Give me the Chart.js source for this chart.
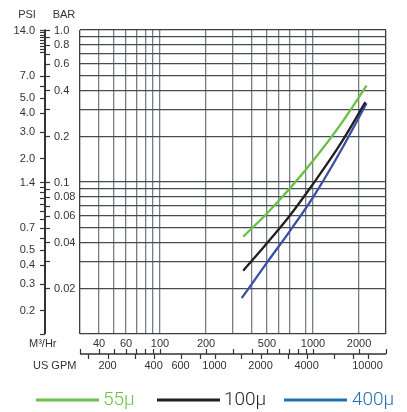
<!DOCTYPE html>
<html><head><meta charset="utf-8">
<script src="https://cdn.jsdelivr.net/npm/chart.js@4.4.0/dist/chart.umd.min.js"></script>
<style>html,body{margin:0;padding:0;background:#fff;}#wrap{width:407px;height:412px;}</style>
</head><body><div id="wrap"><canvas id="c" width="407" height="412"></canvas></div>
<script>
// ---- data (flow in m³/hr, pressure drop in bar) ----
const flow55  = [350, 500, 700, 1000, 1500, 2240];
const drop55  = [0.0437, 0.0621, 0.0898, 0.138, 0.236, 0.43];
const flow100 = [350, 500, 700, 1000, 1500, 2200];
const drop100 = [0.0261, 0.0395, 0.0595, 0.097, 0.176, 0.335];
const flow400 = [342, 500, 700, 1000, 1500, 2240];
const drop400 = [0.0172, 0.0295, 0.047, 0.0793, 0.157, 0.33];
const seriesNames = ['55μ', '100μ', '400μ'];

// ---- axes ----
const m3Grid  = [30,40,50,60,70,80,90,100,200,300,400,500,600,700,900,1000,2000,3000];
const barGrid = [0.01,0.02,0.03,0.04,0.05,0.06,0.07,0.08,0.09,0.1,0.2,0.3,0.4,0.5,0.6,0.7,0.8,0.9,1.0];
const barLabels = [1.0,0.8,0.6,0.4,0.2,0.1,0.08,0.06,0.04,0.02];
const barTicks  = [1.0,0.9,0.8,0.7,0.6,0.5,0.4,0.3,0.2,0.1,0.09,0.08,0.07,0.06,0.05,0.04,0.03,0.02];
const psiLabels = [14.0,7.0,5.0,4.0,3.0,2.0,1.4,0.7,0.5,0.4,0.3,0.2];
const psiTicks  = [14,13.5,13,12.5,12,11.5,11,10.5,10,7,6,5,4,3,2,1.4,1.3,1.2,1.1,1.0,0.9,0.8,0.7,0.6,0.5,0.4,0.3,0.2,0.14];
const m3Labels  = [40,60,100,200,500,1000,2000];
const m3Ticks   = [30,40,50,60,70,80,90,100,200,300,400,500,600,700,800,900,1000,2000,3000];
const gpmLabels = [200,400,600,1000,2000,4000,10000];
const gpmTicks  = [150,200,300,400,600,800,1000,1500,2000,3000,4000,6000,8000,10000];
const PSI_PER_BAR = 14;
const GPM_PER_M3 = 4.403;

const lineColors   = ['#6abf45', '#231f20', '#3a4fa3'];
const legendColors = ['#6cc04a', '#231f20', '#1f6fb2'];

function pts(xs, ys){ return xs.map((x,i)=>({x:x, y:ys[i]})); }

function txt(ctx, s, x, y, align, font, color){
  ctx.save();
  ctx.font = font; ctx.fillStyle = color; ctx.textBaseline = 'middle'; ctx.textAlign = align;
  ctx.fillText(s, x, y);
  ctx.restore();
}

const decor = {
  id: 'decor',
  afterDraw(chart){
    const ctx = chart.ctx, ca = chart.chartArea;
    const ys = chart.scales.y, xs = chart.scales.x;
    const axFont = '11px "Liberation Sans"';
    const axCol = '#333';
    ctx.save();
    // left axis
    const ax = 45;
    ctx.strokeStyle = '#333'; ctx.lineWidth = 2;
    ctx.beginPath(); ctx.moveTo(ax, ca.top - 0.5); ctx.lineTo(ax, ca.bottom); ctx.stroke();
    ctx.lineWidth = 1.2;
    psiTicks.forEach(v => {
      const y = Math.round(ys.getPixelForValue(v / PSI_PER_BAR)) + 0.5;
      ctx.beginPath(); ctx.moveTo(ax - 5, y); ctx.lineTo(ax, y); ctx.stroke();
    });
    barTicks.forEach(v => {
      const y = Math.round(ys.getPixelForValue(v)) + 0.5;
      ctx.beginPath(); ctx.moveTo(ax, y); ctx.lineTo(ax + 5, y); ctx.stroke();
    });
    psiLabels.forEach(v => {
      txt(ctx, v.toFixed(1), 35, ys.getPixelForValue(v / PSI_PER_BAR) + 0.5, 'right', axFont, axCol);
    });
    barLabels.forEach(v => {
      txt(ctx, v >= 0.1 ? v.toFixed(1) : v.toFixed(2), 54, ys.getPixelForValue(v) + 0.5, 'left', axFont, axCol);
    });
    txt(ctx, 'PSI', 27, 15, 'center', axFont, axCol);
    txt(ctx, 'BAR', 64, 15, 'center', axFont, axCol);

    // bottom axes
    const by = 354;
    ctx.lineWidth = 1.5;
    ctx.beginPath(); ctx.moveTo(ca.left, by); ctx.lineTo(ca.right, by); ctx.stroke();
    ctx.lineWidth = 1.2;
    m3Ticks.forEach(v => {
      const x = Math.round(xs.getPixelForValue(v)) + 0.5;
      ctx.beginPath(); ctx.moveTo(x, by); ctx.lineTo(x, by - 5); ctx.stroke();
    });
    gpmTicks.forEach(v => {
      const x = Math.round(xs.getPixelForValue(v / GPM_PER_M3)) + 0.5;
      ctx.beginPath(); ctx.moveTo(x, by); ctx.lineTo(x, by + 5); ctx.stroke();
    });
    m3Labels.forEach(v => txt(ctx, String(v), xs.getPixelForValue(v), 344, 'center', axFont, axCol));
    gpmLabels.forEach(v => txt(ctx, String(v), xs.getPixelForValue(v / GPM_PER_M3), 366, 'center', axFont, axCol));
    txt(ctx, 'M³/Hr', 29, 344, 'left', axFont, axCol);
    txt(ctx, 'US GPM', 33, 366, 'left', axFont, axCol);

    // legend
    const lx = [[36, 99, 103], [157, 220, 224], [284, 347, 352]];
    const ly = 400;
    ctx.lineWidth = 3;
    lx.forEach((p, i) => {
      ctx.strokeStyle = legendColors[i];
      ctx.beginPath(); ctx.moveTo(p[0], ly); ctx.lineTo(p[1], ly); ctx.stroke();
      txt(ctx, seriesNames[i], p[2], ly, 'left', '300 19px Roboto', legendColors[i]);
    });
    ctx.restore();
  }
};

function gridColor(edgeVals, col){
  return c => (c.tick && edgeVals.includes(c.tick.value)) ? '#3a3f45' : col;
}

new Chart(document.getElementById('c'), {
  type: 'line',
  data: {
    datasets: [
      { label: seriesNames[0], data: pts(flow55, drop55),  borderColor: lineColors[0] },
      { label: seriesNames[1], data: pts(flow100, drop100), borderColor: lineColors[1] },
      { label: seriesNames[2], data: pts(flow400, drop400), borderColor: lineColors[2] }
    ].map(d => Object.assign(d, { borderWidth: 2.3, pointRadius: 0, fill: false, cubicInterpolationMode: 'monotone' }))
  },
  options: {
    responsive: false, animation: false, devicePixelRatio: 1,
    layout: { padding: { left: 80, top: 30, right: 21, bottom: 78 } },
    plugins: { legend: { display: false }, tooltip: { enabled: false } },
    scales: {
      x: {
        type: 'logarithmic', min: 30, max: 3000,
        afterBuildTicks: s => { s.ticks = m3Grid.map(v => ({ value: v })); },
        afterFit: s => { s.height = 0; },
        ticks: { display: false },
        grid: { color: gridColor([30, 3000], '#777d84'), lineWidth: 1.3, drawTicks: false },
        border: { display: false }
      },
      y: {
        type: 'logarithmic', min: 0.01, max: 1,
        afterBuildTicks: s => { s.ticks = barGrid.map(v => ({ value: v })); },
        afterFit: s => { s.width = 0; },
        ticks: { display: false },
        grid: { color: gridColor([0.01, 1.0], '#454b51'), lineWidth: 1.3, drawTicks: false },
        border: { display: false }
      }
    }
  },
  plugins: [decor]
});
</script></body></html>
